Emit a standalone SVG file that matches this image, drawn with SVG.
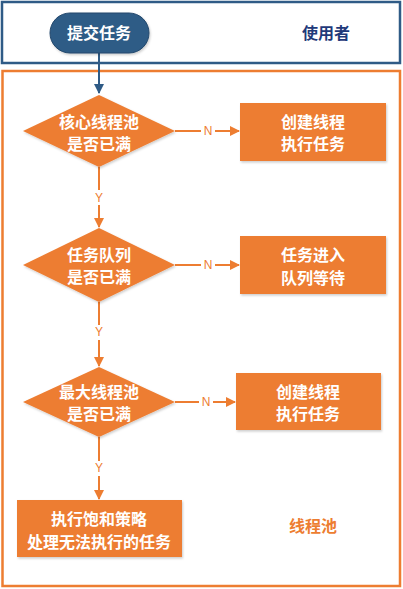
<svg xmlns="http://www.w3.org/2000/svg" width="403" height="589" viewBox="0 0 403 589">
<defs>
<style>
.t{font-family:"Noto Sans CJK SC","Noto Sans",sans-serif;font-weight:bold;font-size:16px;text-anchor:middle;dominant-baseline:central}
.w{fill:#ffffff}
.o{fill:#ED7D31}
.lbl{font-family:"Liberation Sans",Arial,sans-serif;font-size:12px;fill:#ED7D31;text-anchor:middle;dominant-baseline:central}
.shape{fill:#ED7D31}
.line{stroke:#ED7D31;stroke-width:2;fill:none}
</style>
<marker id="ao" viewBox="0 0 10 10" refX="9" refY="5" markerWidth="5" markerHeight="5" orient="auto" markerUnits="strokeWidth">
<path d="M0,0L10,5L0,10z" fill="#ED7D31"/>
</marker>
<marker id="ab" viewBox="0 0 10 10" refX="9" refY="5" markerWidth="5" markerHeight="5" orient="auto" markerUnits="strokeWidth">
<path d="M0,0L10,5L0,10z" fill="#2F5B86"/>
</marker>
<filter id="sh" x="-10%" y="-10%" width="130%" height="140%">
<feDropShadow dx="1" dy="1.5" stdDeviation="1" flood-color="#000" flood-opacity="0.2"/>
</filter>
</defs>
<rect width="403" height="589" fill="#ffffff"/>
<g id="user-lane">
<rect x="2" y="2" width="398" height="61" fill="#ffffff" stroke="#2F5B86" stroke-width="2.5"/>
<text class="t" x="326" y="32" fill="#1F3A7A">使用者</text>
</g>
<g id="pool-lane">
<rect x="2.5" y="71" width="397.5" height="515" fill="#ffffff" stroke="#ED7D31" stroke-width="2.5"/>
<text class="t o" x="313" y="525">线程池</text>
</g>
<g id="connectors">
<line x1="99" y1="52" x2="99" y2="93" stroke="#2F5B86" stroke-width="2" marker-end="url(#ab)"/>
<line class="line" x1="175" y1="131" x2="201" y2="131"/>
<line class="line" x1="215" y1="131" x2="239" y2="131" marker-end="url(#ao)"/>
<text class="lbl" x="208" y="131">N</text>
<line class="line" x1="99" y1="167" x2="99" y2="190"/>
<line class="line" x1="99" y1="205" x2="99" y2="227" marker-end="url(#ao)"/>
<text class="lbl" x="99" y="198">Y</text>
<line class="line" x1="175" y1="265" x2="201" y2="265"/>
<line class="line" x1="215" y1="265" x2="239" y2="265" marker-end="url(#ao)"/>
<text class="lbl" x="208" y="265">N</text>
<line class="line" x1="99" y1="302" x2="99" y2="325"/>
<line class="line" x1="99" y1="340" x2="99" y2="366" marker-end="url(#ao)"/>
<text class="lbl" x="99" y="332">Y</text>
<line class="line" x1="175" y1="402" x2="199" y2="402"/>
<line class="line" x1="213" y1="402" x2="235" y2="402" marker-end="url(#ao)"/>
<text class="lbl" x="206" y="402">N</text>
<line class="line" x1="99" y1="437" x2="99" y2="461"/>
<line class="line" x1="99" y1="476" x2="99" y2="499" marker-end="url(#ao)"/>
<text class="lbl" x="99" y="468">Y</text>
</g>
<g id="submit">
<rect x="50" y="13" width="99" height="40" rx="20" fill="#2F5B86" stroke="#24496D" stroke-width="1" filter="url(#sh)"/>
<text class="t w" x="99" y="32">提交任务</text>
</g>
<g id="d1">
<polygon class="shape" points="99,95 175,131 99,167 23,131" filter="url(#sh)"/>
<text class="t w" x="99" y="121">核心线程池</text>
<text class="t w" x="99" y="143">是否已满</text>
</g>
<g id="b1">
<rect class="shape" x="240" y="103" width="146" height="58" filter="url(#sh)"/>
<text class="t w" x="313" y="121">创建线程</text>
<text class="t w" x="313" y="143">执行任务</text>
</g>
<g id="d2">
<polygon class="shape" points="99,228 175,265 99,302 23,265" filter="url(#sh)"/>
<text class="t w" x="99" y="254">任务队列</text>
<text class="t w" x="99" y="276">是否已满</text>
</g>
<g id="b2">
<rect class="shape" x="240" y="236" width="146" height="58" filter="url(#sh)"/>
<text class="t w" x="313" y="254">任务进入</text>
<text class="t w" x="313" y="277">队列等待</text>
</g>
<g id="d3">
<polygon class="shape" points="99,367 175,402 99,437 23,402" filter="url(#sh)"/>
<text class="t w" x="99" y="391">最大线程池</text>
<text class="t w" x="99" y="413">是否已满</text>
</g>
<g id="b3">
<rect class="shape" x="236" y="373" width="145" height="57" filter="url(#sh)"/>
<text class="t w" x="308" y="391">创建线程</text>
<text class="t w" x="308" y="413">执行任务</text>
</g>
<g id="b4">
<rect class="shape" x="17" y="500" width="165" height="57" filter="url(#sh)"/>
<text class="t w" x="99" y="518">执行饱和策略</text>
<text class="t w" x="99" y="541">处理无法执行的任务</text>
</g>
</svg>
